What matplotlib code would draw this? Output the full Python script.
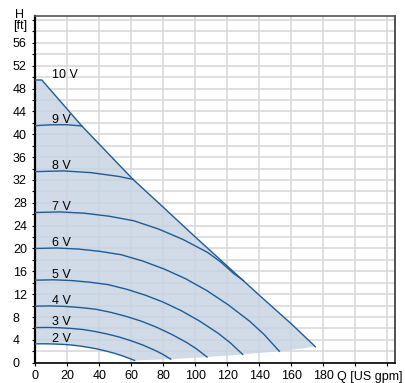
import numpy as np
import matplotlib
matplotlib.use("Agg")
import matplotlib.pyplot as plt

plt.rcParams['font.family'] = ['Liberation Sans', 'DejaVu Sans']
plt.rcParams['font.size'] = 9

# pump curves, flow Q [US gpm] vs head H [ft], per control voltage
q2 = [0, 5.5, 10.9, 16.4, 21.8, 27.3, 32.7, 38.2, 43.6, 49.1, 54.5, 58.1, 62.0]
h2 = [3.30, 3.31, 3.28, 3.22, 3.12, 2.94, 2.71, 2.43, 2.08, 1.67, 1.19, 0.81, 0.40]

q3 = [0, 7.4, 14.9, 22.3, 29.8, 37.2, 44.6, 52.1, 59.5, 67.0, 74.4, 79.4, 84.6]
h3 = [6.15, 6.17, 6.12, 6.00, 5.81, 5.47, 5.04, 4.52, 3.87, 3.11, 2.21, 1.51, 0.62]

q4 = [0, 9.4, 18.9, 28.3, 37.8, 47.2, 56.6, 66.1, 75.5, 84.9, 94.4, 100.7, 107.3]
h4 = [9.90, 9.94, 9.85, 9.65, 9.36, 8.81, 8.12, 7.28, 6.24, 5.00, 3.56, 2.43, 0.99]

q5 = [0, 11.4, 22.8, 34.2, 45.6, 57.0, 68.4, 79.8, 91.2, 102.6, 114.0, 121.6, 129.6]
h5 = [14.45, 14.51, 14.38, 14.09, 13.66, 12.86, 11.85, 10.62, 9.10, 7.30, 5.20, 3.54, 1.45]

q6 = [0, 13.4, 26.8, 40.2, 53.7, 67.1, 80.5, 93.9, 107.3, 120.7, 134.2, 143.1, 152.5]
h6 = [20.0, 20.08, 19.9, 19.5, 18.9, 17.8, 16.4, 14.7, 12.6, 10.1, 7.2, 4.9, 2.0]

q7 = [0, 15.4, 30.8, 46.2, 61.5, 76.9, 92.3, 107.7, 116.0, 124.0, 130.0]
h7 = [26.3, 26.4, 26.17, 25.64, 24.85, 23.41, 21.57, 19.3, 17.6, 15.6, 14.4]

q8 = [0, 17.4, 34.7, 52.1, 61.0]
h8 = [33.45, 33.58, 33.28, 32.61, 32.1]

q9 = [0, 9.7, 19.3, 29.0]
h9 = [41.5, 41.65, 41.67, 41.45]

# 10 V / max curve
q10 = [0, 4, 29, 61, 80, 100, 120, 140, 160, 175]
h10 = [49.5, 49.5, 41.45, 32.1, 27.2, 22.0, 16.9, 11.8, 6.8, 2.8]

# end points of the curves (lower edge of the area)
q_end = [62.0, 84.6, 107.3, 129.6, 152.5, 175]
h_end = [0.40, 0.62, 0.99, 1.45, 2.0, 2.8]

curves = [(q2, h2), (q3, h3), (q4, h4), (q5, h5), (q6, h6),
          (q7, h7), (q8, h8), (q9, h9), (q10, h10)]
names = ["2 V", "3 V", "4 V", "5 V", "6 V", "7 V", "8 V", "9 V", "10 V"]

line_col = '#1f5b96'
W, H = 406, 383
fig = plt.figure(figsize=(W / 100, H / 100), dpi=100)
ax = fig.add_axes([35.4 / W, 20.3 / H, 359.3 / W, 346.7 / H])

# shaded operating area
fx = np.concatenate([q10, q_end[::-1][1:], q2[::-1][1:]])
fy = np.concatenate([h10, h_end[::-1][1:], h2[::-1][1:]])
ax.fill(fx, fy, color='#c5d3e1', alpha=0.8, lw=0, zorder=2)

for (q, h), name in zip(curves, names):
    ax.plot(q, h, color=line_col, lw=1.0, zorder=3)
    ax.text(10.5, h[0] + 0.4, name, ha='left', va='baseline', zorder=4)

ax.set_xlim(0, 224.6)
ax.set_ylim(0, 60.7)

ax.set_xticks(range(0, 221, 20))
ax.set_xticklabels([str(v) for v in range(0, 181, 20)] + ['', ''])
ax.set_yticks(range(0, 57, 4))
ax.set_yticks(range(0, 61, 2), minor=True)

ax.grid(axis='x', which='major', color='#d9d9d9', lw=1.2, zorder=0)
ax.grid(axis='y', which='both', color='#d9d9d9', lw=1.2, zorder=0)
ax.set_axisbelow(True)

ax.tick_params(axis='x', which='major', length=2.5, width=0.8, pad=3)
ax.tick_params(axis='y', which='both', length=2.2, width=0.8, pad=14)
for lbl in ax.get_yticklabels():
    lbl.set_horizontalalignment('left')

ax.spines['left'].set_linewidth(1.6)
ax.spines['bottom'].set_linewidth(1.2)
ax.spines['top'].set_linewidth(1.2)
ax.spines['top'].set_color('#555555')
ax.spines['right'].set_linewidth(1.2)
ax.spines['right'].set_color('#333333')

fig.text(20 / W, 1 - 15 / H, "H", ha='center', va='center')
fig.text(20 / W, 1 - 26 / H, "[ft]", ha='center', va='center')
fig.text(337 / W, 1 - 376.7 / H, "Q [US gpm]", ha='left', va='center')

fig.savefig("out.png", dpi=100)
